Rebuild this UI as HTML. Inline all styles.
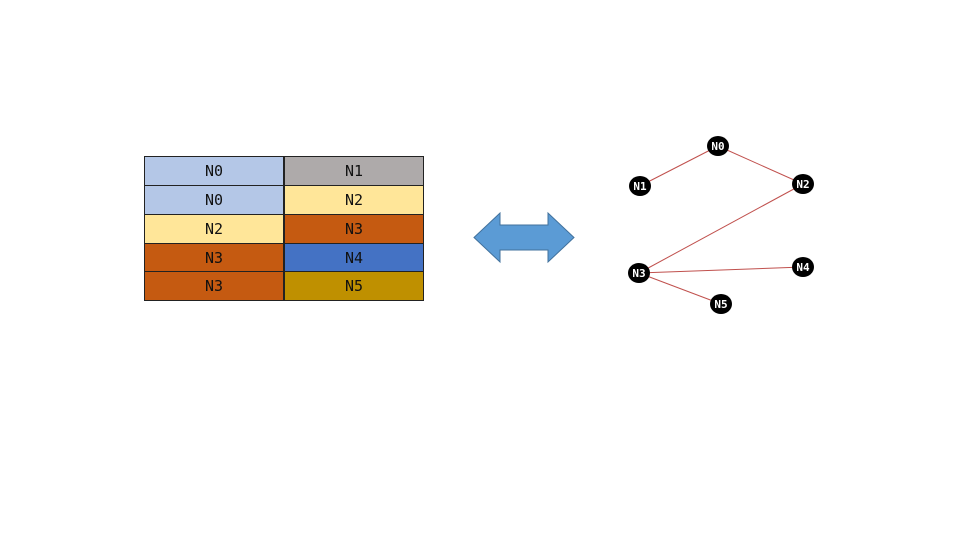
<!DOCTYPE html>
<html><head><style>
body{margin:0;background:#fff;width:960px;height:540px;overflow:hidden;position:relative;font-family:"DejaVu Sans Mono","Liberation Mono",monospace}
.c{position:absolute;box-sizing:border-box;border:1px solid #222;text-align:center;font-size:15px;color:#111;}
</style></head><body>
<div class="c" style="left:144px;top:156px;width:140px;height:30px;line-height:29px;background:#b4c7e7">N0</div>
<div class="c" style="left:284px;top:156px;width:140px;height:30px;line-height:29px;background:#aeaaaa">N1</div>
<div class="c" style="left:144px;top:185px;width:140px;height:30px;line-height:29px;background:#b4c7e7">N0</div>
<div class="c" style="left:284px;top:185px;width:140px;height:30px;line-height:29px;background:#ffe699">N2</div>
<div class="c" style="left:144px;top:214px;width:140px;height:30px;line-height:29px;background:#ffe699">N2</div>
<div class="c" style="left:284px;top:214px;width:140px;height:30px;line-height:29px;background:#c55a11">N3</div>
<div class="c" style="left:144px;top:243px;width:140px;height:29px;line-height:28px;background:#c55a11">N3</div>
<div class="c" style="left:284px;top:243px;width:140px;height:29px;line-height:28px;background:#4472c4">N4</div>
<div class="c" style="left:144px;top:271px;width:140px;height:30px;line-height:29px;background:#c55a11">N3</div>
<div class="c" style="left:284px;top:271px;width:140px;height:30px;line-height:29px;background:#bf9000">N5</div>
<svg width="960" height="540" style="position:absolute;left:0;top:0">
<polygon points="474,237.5 500,213 500,225 548,225 548,213 574,237.5 548,262 548,250 500,250 500,262" fill="#5b9bd5" stroke="#41719c" stroke-width="1"/>
<g stroke="#c0504d" stroke-width="1">
<line x1="718" y1="146" x2="640" y2="186"/>
<line x1="718" y1="146" x2="803" y2="184"/>
<line x1="803" y1="184" x2="639" y2="273"/>
<line x1="639" y1="273" x2="803" y2="267"/>
<line x1="639" y1="273" x2="721" y2="304"/>
</g>
<g fill="#000">
<ellipse cx="718" cy="146" rx="11" ry="10"/>
<ellipse cx="640" cy="186" rx="11" ry="10"/>
<ellipse cx="803" cy="184" rx="11" ry="10"/>
<ellipse cx="639" cy="273" rx="11" ry="10"/>
<ellipse cx="803" cy="267" rx="11" ry="10"/>
<ellipse cx="721" cy="304" rx="11" ry="10"/>
</g>
<g fill="#fff" font-family="DejaVu Sans Mono, Liberation Mono, monospace" font-size="11" font-weight="bold" text-anchor="middle">
<text x="718" y="150">N0</text>
<text x="640" y="190">N1</text>
<text x="803" y="188">N2</text>
<text x="639" y="277">N3</text>
<text x="803" y="271">N4</text>
<text x="721" y="308">N5</text>
</g>
</svg>
</body></html>
